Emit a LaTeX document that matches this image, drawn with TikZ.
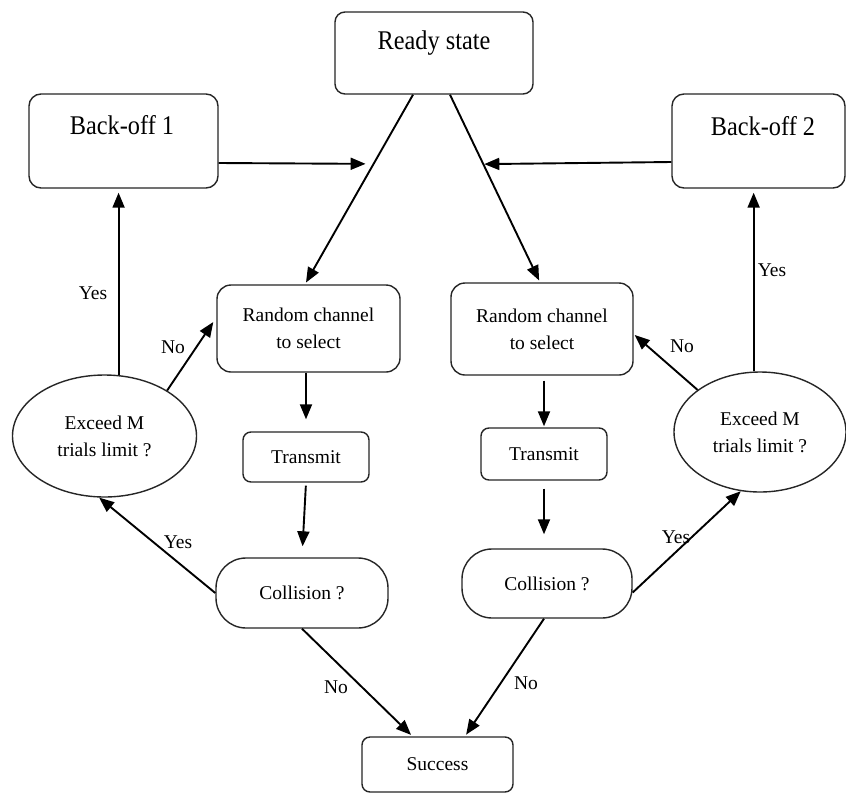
\documentclass[tikz,border=0pt]{standalone}
\usepackage{fontspec}
\setmainfont{Liberation Serif}
\usetikzlibrary{arrows.meta,shapes.geometric,calc}
\begin{document}
\begin{tikzpicture}[x=1pt,y=-1pt,
  box/.style={draw=black!85, line width=1.4pt, rounded corners=#1, inner sep=0pt, align=center,
    font=\fontsize{19.5}{27}\selectfont},
  box/.default=12pt,
  ell/.style={ellipse, draw=black!85, line width=1.4pt, inner sep=0pt, align=center,
    font=\fontsize{19.5}{27}\selectfont},
  big/.style={inner sep=0pt, font=\fontsize{27}{30}\selectfont, xscale=0.9},
  lbl/.style={inner sep=0pt, font=\fontsize{19.5}{23}\selectfont},
  arr/.style={line width=1.9pt, -{Triangle[length=15pt,width=12pt]}}
]
\path[fill=white, use as bounding box] (0,0) rectangle (846,793);

% boxes
\node[box=10pt, minimum width=198pt, minimum height=82pt] (rs) at (434,53) {};
\node[big, transform shape] (rstxt) at (434,43) {Ready state};
\node[box, minimum width=189pt, minimum height=94pt] (bo1) at (123.5,141) {};
\node[big, transform shape] (bo1txt) at (122,125) {Back-off 1};
\node[box, minimum width=173pt, minimum height=94pt] (bo2) at (758.5,141) {};
\node[big, transform shape] (bo2txt) at (763,126) {Back-off 2};

\node[box=14pt, minimum width=183pt, minimum height=87pt] (rcL) at (308.5,328.5) {Random channel\\to select};
\node[box=14pt, minimum width=182pt, minimum height=92pt] (rcR) at (542,329) {Random channel\\to select};
\node[box=8pt, minimum width=126pt, minimum height=50pt] (trL) at (306,457) {Transmit};
\node[box=8pt, minimum width=126pt, minimum height=52pt] (trR) at (544,454) {Transmit};
\node[box=30pt, minimum width=172pt, minimum height=70pt] (coL) at (302,593) {Collision ?};
\node[box=30pt, minimum width=170pt, minimum height=69pt] (coR) at (547,583.5) {Collision ?};
\node[box=8pt, minimum width=151pt, minimum height=55pt] (su) at (437.5,764.5) {Success};

\node[ell, minimum width=184pt, minimum height=122pt] (elL) at (104.5,436) {Exceed M\\trials limit ?};
\node[ell, minimum width=172pt, minimum height=120pt] (elR) at (760,432) {Exceed M\\trials limit ?};

% junction coordinates
\coordinate (rsL) at ($(rs.south)+(-21,0)$);
\coordinate (rsR) at ($(rs.south)+(16,0)$);
\coordinate (rcLt) at ($(rcL.north)+(-3.5,0)$);
\coordinate (rcRt) at ($(rcR.north)+(-2,0)$);
\coordinate (jL) at ($(rsL)!0.365!(rcLt)$);
\coordinate (jR) at ($(rsR)!0.37!(rcRt)$);

% connectors
\draw[arr, shorten >=2pt] (rsL) -- (rcLt);
\draw[arr, shorten >=2pt] (rsR) -- (rcRt);
\draw[arr, shorten >=8pt] ($(bo1.east)+(0,22)$) -- (jL);
\draw[arr, shorten >=1pt] ($(bo2.west)+(0,21)$) -- (jR);

\draw[arr, shorten >=4pt] (elL.77) -- (elL.77 |- bo1.south);
\draw[arr, shorten >=4pt] (elR.96.7) -- (elR.96.7 |- bo2.south);

\draw[arr] (elL.36) -- ($(rcL.west)+(-3,-6.5)$);
\draw[arr] (elR.146) -- ($(rcR.east)+(1,6)$);

\draw[arr, shorten >=12pt] (rcL.south -| trL.north) -- (trL.north);
\draw[arr, shorten <=5pt, shorten >=1pt] (rcR.south -| trR.north) -- (trR.north);
\draw[arr, shorten <=3pt, shorten >=11pt] (trL.south) -- (coL.north);
\draw[arr, shorten <=8pt, shorten >=14pt] (trR.south) -- (trR.south |- coR.north);

\draw[arr] (coL.west) -- (elL.265);
\draw[arr] ($(coR.east)+(0,9)$) -- (elR.252);
\draw[arr, shorten >=2pt] (coL.south) -- ($(su.north)+(-25,0)$);
\draw[arr, shorten >=2pt] ($(coR.south)+(-3,0)$) -- ($(su.north)+(27.5,0)$);

% labels
\node[lbl] (yesL1) at (93,293) {Yes};
\node[lbl] (yesR1) at (772,270) {Yes};
\node[lbl] (noL1) at (173,347) {No};
\node[lbl] (noR1) at (682,346) {No};
\node[lbl] (yesL2) at (178,542) {Yes};
\node[lbl] (yesR2) at (676,537) {Yes};
\node[lbl] (noL2) at (336,687) {No};
\node[lbl] (noR2) at (526,683) {No};
\end{tikzpicture}
\end{document}
